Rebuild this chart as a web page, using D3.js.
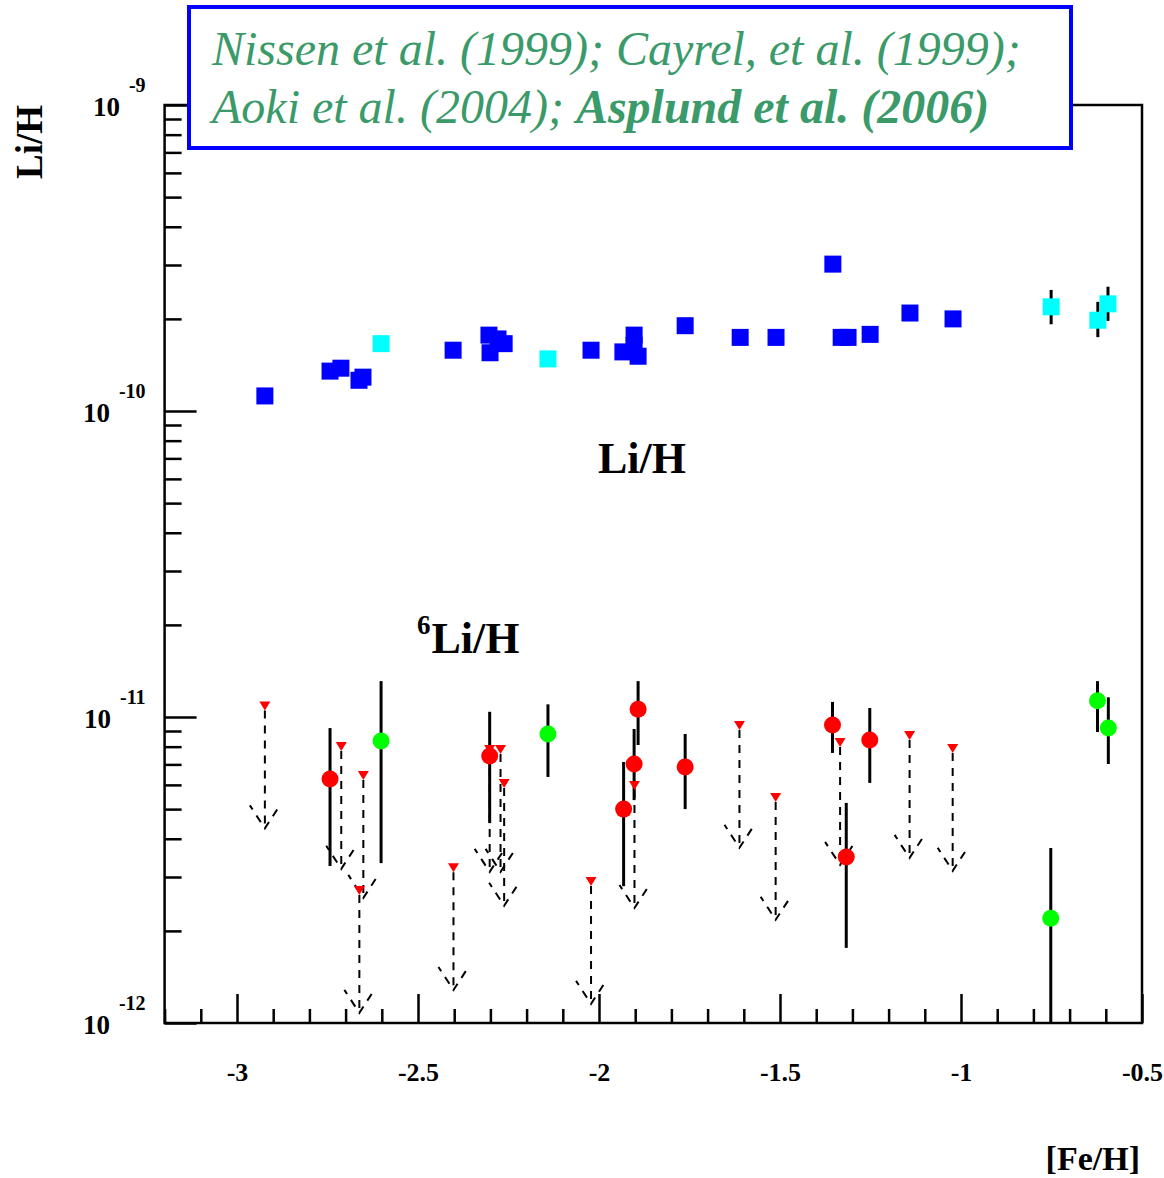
<!DOCTYPE html>
<html>
<head>
<meta charset="utf-8">
<script src="https://cdn.jsdelivr.net/npm/d3@7"></script>
<style>
  body { margin: 0; background: #fff; }
  text { font-family: "Liberation Serif", "Times New Roman", serif; }
</style>
</head>
<body>
<script>
// Li/H plateau (squares), Li/H values
var blueFeH = [-2.923, -2.743, -2.713, -2.663, -2.652, -2.403, -2.304, -2.301, -2.279, -2.262,
               -2.022, -1.903, -1.903, -1.934, -1.892, -1.762, -1.610, -1.511, -1.354, -1.331,
               -1.312, -1.251, -1.141, -1.022];
var blueLi = [1.12e-10, 1.35e-10, 1.38e-10, 1.26e-10, 1.29e-10, 1.58e-10, 1.77e-10, 1.55e-10, 1.72e-10, 1.66e-10,
              1.58e-10, 1.77e-10, 1.64e-10, 1.56e-10, 1.51e-10, 1.90e-10, 1.74e-10, 1.74e-10, 3.02e-10, 1.74e-10,
              1.74e-10, 1.78e-10, 2.09e-10, 2.00e-10];

var cyanFeH = [-2.602, -2.141, -0.751, -0.622, -0.594];
var cyanLi  = [1.66e-10, 1.48e-10, 2.19e-10, 1.98e-10, 2.24e-10];
var cyanLo  = [1.60e-10, 1.48e-10, 1.95e-10, 1.77e-10, 2.00e-10];
var cyanHi  = [1.72e-10, 1.48e-10, 2.45e-10, 2.24e-10, 2.51e-10];

// 6Li/H detections (circles) with error bars
var redFeH = [-2.743, -2.302, -1.892, -1.903, -1.932, -1.762, -1.355, -1.317, -1.252];
var redLi  = [6.27e-12, 7.46e-12, 10.6e-12, 7.02e-12, 5.00e-12, 6.86e-12, 9.42e-12, 3.49e-12, 8.41e-12];
var redLo  = [3.26e-12, 4.50e-12, 8.10e-12, 5.35e-12, 2.80e-12, 5.00e-12, 7.63e-12, 1.76e-12, 6.09e-12];
var redHi  = [9.20e-12, 10.4e-12, 13.1e-12, 9.14e-12, 7.13e-12, 8.80e-12, 11.2e-12, 5.24e-12, 10.7e-12];

var greenFeH = [-2.602, -2.141, -0.752, -0.623, -0.593];
var greenLi  = [8.35e-12, 8.80e-12, 2.20e-12, 11.3e-12, 9.20e-12];
var greenLo  = [3.33e-12, 6.37e-12, 0.50e-12, 8.93e-12, 7.02e-12];
var greenHi  = [13.1e-12, 11.0e-12, 3.73e-12, 13.1e-12, 11.6e-12];

// 6Li/H upper limits (triangles + dashed arrows)
var limFeH = [-2.923, -2.712, -2.651, -2.662, -2.402, -2.302, -2.272, -2.262, -2.022,
              -1.902, -1.612, -1.512, -1.334, -1.142, -1.023];
var limLi  = [10.9e-12, 8.04e-12, 6.46e-12, 2.72e-12, 3.23e-12, 7.86e-12, 7.86e-12, 6.09e-12, 2.91e-12,
              5.99e-12, 9.42e-12, 5.48e-12, 8.28e-12, 8.73e-12, 7.92e-12];

var xMajor = [-3, -2.5, -2, -1.5, -1, -0.5];
var xTickLabels = ["-3", "-2.5", "-2", "-1.5", "-1", "-0.5"];
var yMajor = [1e-12, 1e-11, 1e-10, 1e-9];
var yTickExps = ["-12", "-11", "-10", "-9"];

var titleLine1 = "Nissen et al. (1999); Cayrel, et al. (1999);";
var titleLine2a = "Aoki et al. (2004); ";
var titleLine2b = "Asplund et al. (2006)";

var W = 1164, H = 1178;
var margin = { top: 105, right: 22, bottom: 155, left: 164.6 };
var width = W - margin.left - margin.right,
    height = H - margin.top - margin.bottom;

var svg = d3.select("body").append("svg")
    .attr("width", W)
    .attr("height", H);

var g = svg.append("g")
    .attr("transform", "translate(" + margin.left + "," + margin.top + ")");

var x = d3.scaleLinear().domain([-3.2, -0.5]).range([0, width]);
var y = d3.scaleLog().domain([1e-12, 1e-9]).range([height, 0]);

svg.append("defs").append("clipPath").attr("id", "plotclip")
  .append("rect").attr("width", width).attr("height", height);

// x axis ticks (inside, pointing up)
var xMinor = d3.range(-3.2, -0.49, 0.1).map(function(d) { return +d.toFixed(1); })
    .filter(function(d) { return xMajor.indexOf(d) < 0; });

g.append("g")
    .attr("transform", "translate(0," + height + ")")
    .call(d3.axisBottom(x).tickValues(xMinor).tickSize(-14).tickFormat(""))
    .call(function(a) { a.select(".domain").remove(); a.selectAll("line").attr("stroke-width", 2.5); });

g.append("g")
    .attr("transform", "translate(0," + height + ")")
    .call(d3.axisBottom(x).tickValues(xMajor).tickSize(-29).tickPadding(40)
        .tickFormat(function(d, i) { return xTickLabels[i]; }))
    .call(function(a) {
        a.select(".domain").remove();
        a.selectAll("line").attr("stroke-width", 2.5);
        a.selectAll("text").attr("font-size", 26).attr("font-weight", "bold")
            .attr("fill", "#000").style("font-family", "'Liberation Serif', serif");
    });

// y axis ticks
var yMinor = [];
[1e-12, 1e-11, 1e-10].forEach(function(dec) {
    for (var k = 2; k <= 9; k++) yMinor.push(k * dec);
});

g.append("g")
    .call(d3.axisLeft(y).tickValues(yMinor).tickSize(-17).tickFormat(""))
    .call(function(a) { a.select(".domain").remove(); a.selectAll("line").attr("stroke-width", 2.5); });

g.append("g")
    .call(d3.axisLeft(y).tickValues(yMajor).tickSize(-32).tickFormat(""))
    .call(function(a) { a.select(".domain").remove(); a.selectAll("line").attr("stroke-width", 2.5); });

// y tick labels: 10 with superscript exponent
var ylab = g.append("g");
yMajor.forEach(function(v, i) {
    var t = ylab.append("text")
        .attr("x", -19)
        .attr("y", y(v) + 11)
        .attr("text-anchor", "end")
        .attr("font-weight", "bold")
        .style("font-size", "27px");
    t.append("tspan").text("10");
    t.append("tspan").attr("dx", 9).attr("dy", -24).style("font-size", "20px").text(yTickExps[i]);
});

// frame
g.append("rect")
    .attr("width", width).attr("height", height)
    .attr("fill", "none").attr("stroke", "#000").attr("stroke-width", 2.5);

var plot = g.append("g").attr("clip-path", "url(#plotclip)");

// cyan square error bars
plot.selectAll(".cerr").data(cyanFeH).enter().append("line")
    .attr("x1", function(d) { return x(d); }).attr("x2", function(d) { return x(d); })
    .attr("y1", function(d, i) { return y(cyanHi[i]) - 2; })
    .attr("y2", function(d, i) { return y(cyanLo[i]) + 2; })
    .attr("stroke", "#000").attr("stroke-width", 3);

// error bars for circles
function errBars(fe, lo, hi) {
    plot.append("g").selectAll("line").data(fe).enter().append("line")
        .attr("x1", function(d) { return x(d); }).attr("x2", function(d) { return x(d); })
        .attr("y1", function(d, i) { return y(hi[i]); })
        .attr("y2", function(d, i) { return y(lo[i]); })
        .attr("stroke", "#000").attr("stroke-width", 3);
}
errBars(redFeH, redLo, redHi);
errBars(greenFeH, greenLo, greenHi);

// dashed arrows for upper limits
var arrowFactor = 2.52;
var arrows = plot.append("g")
    .attr("stroke", "#000").attr("stroke-width", 2).attr("stroke-dasharray", "8,7").attr("fill", "none");
limFeH.forEach(function(fe, i) {
    var px = x(fe), top = y(limLi[i]), tip = y(limLi[i] / arrowFactor);
    arrows.append("line").attr("x1", px).attr("x2", px).attr("y1", top + 5).attr("y2", tip);
    arrows.append("path").attr("d", "M" + (px - 15) + "," + (tip - 23) + "L" + px + "," + tip + "L" + (px + 15) + "," + (tip - 23))
        .attr("stroke-dashoffset", 3);
});

// triangles
plot.selectAll(".tri").data(limFeH).enter().append("path")
    .attr("d", function(d, i) {
        var px = x(d), py = y(limLi[i]);
        return "M" + (px - 5.5) + "," + (py - 4) + "L" + (px + 5.5) + "," + (py - 4) + "L" + px + "," + (py + 5) + "Z";
    })
    .attr("fill", "#ff0000");

// circles
plot.selectAll(".red").data(redFeH).enter().append("circle")
    .attr("cx", function(d) { return x(d); })
    .attr("cy", function(d, i) { return y(redLi[i]); })
    .attr("r", 8.5).attr("fill", "#ff0000");

plot.selectAll(".green").data(greenFeH).enter().append("circle")
    .attr("cx", function(d) { return x(d); })
    .attr("cy", function(d, i) { return y(greenLi[i]); })
    .attr("r", 8.5).attr("fill", "#00ff00");

// squares
var sq = 17;
plot.selectAll(".blue").data(blueFeH).enter().append("rect")
    .attr("x", function(d) { return x(d) - sq / 2; })
    .attr("y", function(d, i) { return y(blueLi[i]) - sq / 2; })
    .attr("width", sq).attr("height", sq).attr("fill", "#0000ff");

plot.selectAll(".cyan").data(cyanFeH).enter().append("rect")
    .attr("x", function(d) { return x(d) - sq / 2; })
    .attr("y", function(d, i) { return y(cyanLi[i]) - sq / 2; })
    .attr("width", sq).attr("height", sq).attr("fill", "#00ffff");

// in-plot labels
svg.append("text")
    .attr("x", 598).attr("y", 473)
    .style("font-size", "44px").attr("font-weight", "bold")
    .text("Li/H");

var six = svg.append("text")
    .attr("x", 417).attr("y", 653)
    .style("font-size", "44px").attr("font-weight", "bold");
six.append("tspan").style("font-size", "27px").attr("dy", -19).text("6");
six.append("tspan").attr("dy", 19).attr("dx", 1).text("Li/H");

// axis titles
svg.append("text")
    .attr("transform", "translate(42,142) rotate(-90)")
    .attr("text-anchor", "middle")
    .style("font-size", "37px").attr("font-weight", "bold")
    .text("Li/H");

svg.append("text")
    .attr("x", 1140).attr("y", 1170)
    .attr("text-anchor", "end")
    .style("font-size", "34px").attr("font-weight", "bold")
    .text("[Fe/H]");

// reference box
svg.append("rect")
    .attr("x", 189).attr("y", 7).attr("width", 882).attr("height", 141)
    .attr("fill", "#fff").attr("stroke", "#0000ff").attr("stroke-width", 4);

svg.append("text")
    .attr("x", 212).attr("y", 65)
    .style("font-size", "48px").attr("font-style", "italic").attr("fill", "#3a9a6a")
    .text(titleLine1);

var t2 = svg.append("text")
    .attr("x", 212).attr("y", 123)
    .style("font-size", "48px").attr("font-style", "italic").attr("fill", "#3a9a6a");
t2.append("tspan").text(titleLine2a);
t2.append("tspan").attr("font-weight", "bold").text(titleLine2b);
</script>
</body>
</html>
